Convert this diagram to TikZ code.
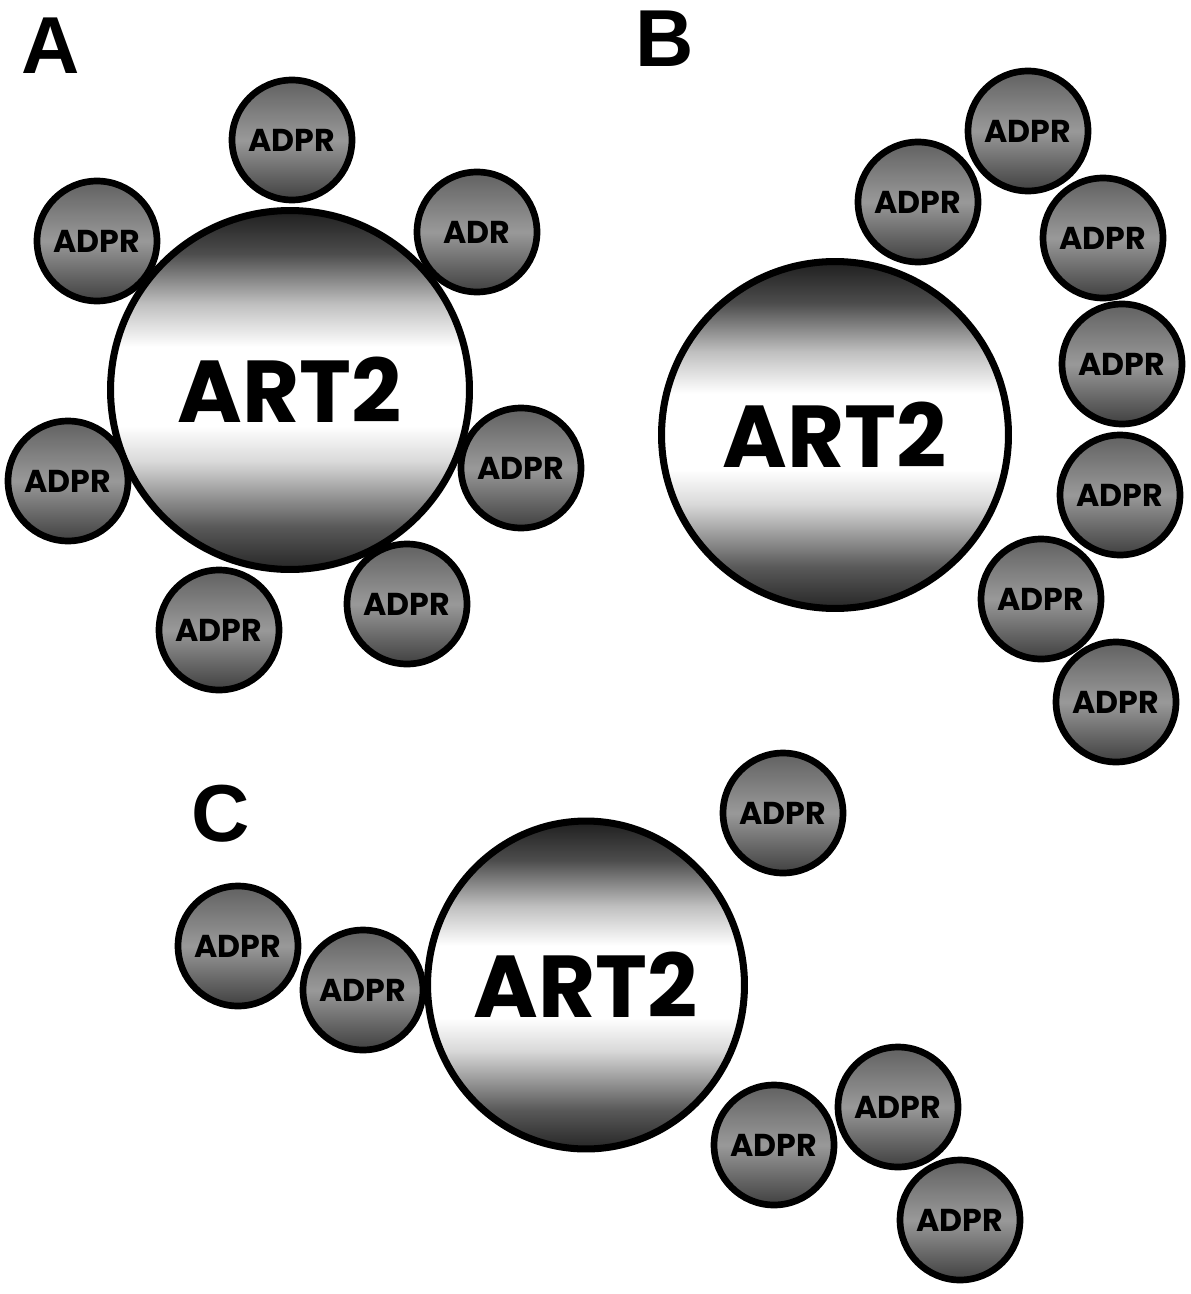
\documentclass[tikz,border=0pt]{standalone}
\usepackage{fontspec}
\newfontfamily\comicfont{Poppins}
\newfontfamily\panelfont{Liberation Sans}
\usetikzlibrary{shapes.geometric}
% shadings (bottom to top)
\pgfdeclareverticalshading{protshade}{100bp}{color(0bp)=(black!85); color(25bp)=(black!85);
  color(31bp)=(black!65); color(40bp)=(black!15); color(45bp)=(white); color(56bp)=(white);
  color(62bp)=(black!25); color(69bp)=(black!70); color(75bp)=(black!88); color(100bp)=(black!88)}
\pgfdeclareverticalshading{adprshade}{100bp}{color(0bp)=(black!75); color(25bp)=(black!75);
  color(50bp)=(black!40); color(75bp)=(black!62); color(100bp)=(black!62)}
\tikzset{
  protein/.style={circle,draw=black,line width=4pt,shade,shading=protshade,inner sep=0pt,
    font=\comicfont\bfseries\fontsize{50}{50}\selectfont},
  adpr/.style={circle,draw=black,line width=3.8pt,shade,shading=adprshade,inner sep=0pt,
    minimum size=2.4cm,font=\comicfont\bfseries\fontsize{18}{18}\selectfont},
  panel/.style={inner sep=0pt,font=\panelfont\bfseries\fontsize{46}{46}\selectfont}
}
\begin{document}
\begin{tikzpicture}[x=0.02cm,y=-0.02cm]
  \useasboundingbox (0,0) rectangle (1190,1294);
  % panel A
  \node[panel] (labA) at (51,46) {A};
  \node[protein,minimum size=7.18cm] (artA) at (290,390) {ART2};
  \node[adpr] (a1) at (292,140) {ADPR};
  \node[adpr] (a2) at (477,232) {ADR};
  \node[adpr] (a3) at (97,241) {ADPR};
  \node[adpr] (a4) at (68,481) {ADPR};
  \node[adpr] (a5) at (521,468) {ADPR};
  \node[adpr] (a6) at (219,630) {ADPR};
  \node[adpr] (a7) at (407,604) {ADPR};
  % panel B
  \node[panel] (labB) at (665,39) {B};
  \node[protein,minimum size=6.94cm] (artB) at (835,435) {ART2};
  \node[adpr] (b1) at (918,202) {ADPR};
  \node[adpr] (b2) at (1028,131) {ADPR};
  \node[adpr] (b3) at (1103,238) {ADPR};
  \node[adpr] (b4) at (1122,364) {ADPR};
  \node[adpr] (b5) at (1120,495) {ADPR};
  \node[adpr] (b6) at (1041,599) {ADPR};
  \node[adpr] (b7) at (1116,702) {ADPR};
  % panel C
  \node[panel] (labC) at (221,814) {C};
  \node[protein,ellipse,minimum width=6.24cm,minimum height=6.56cm] (artC) at (586,985) {ART2};
  \node[adpr] (c1) at (783,813) {ADPR};
  \node[adpr] (c2) at (238,946) {ADPR};
  \node[adpr] (c3) at (363,990) {ADPR};
  \node[adpr] (c4) at (898,1107) {ADPR};
  \node[adpr] (c5) at (774,1145) {ADPR};
  \node[adpr] (c6) at (960,1220) {ADPR};
\end{tikzpicture}
\end{document}
